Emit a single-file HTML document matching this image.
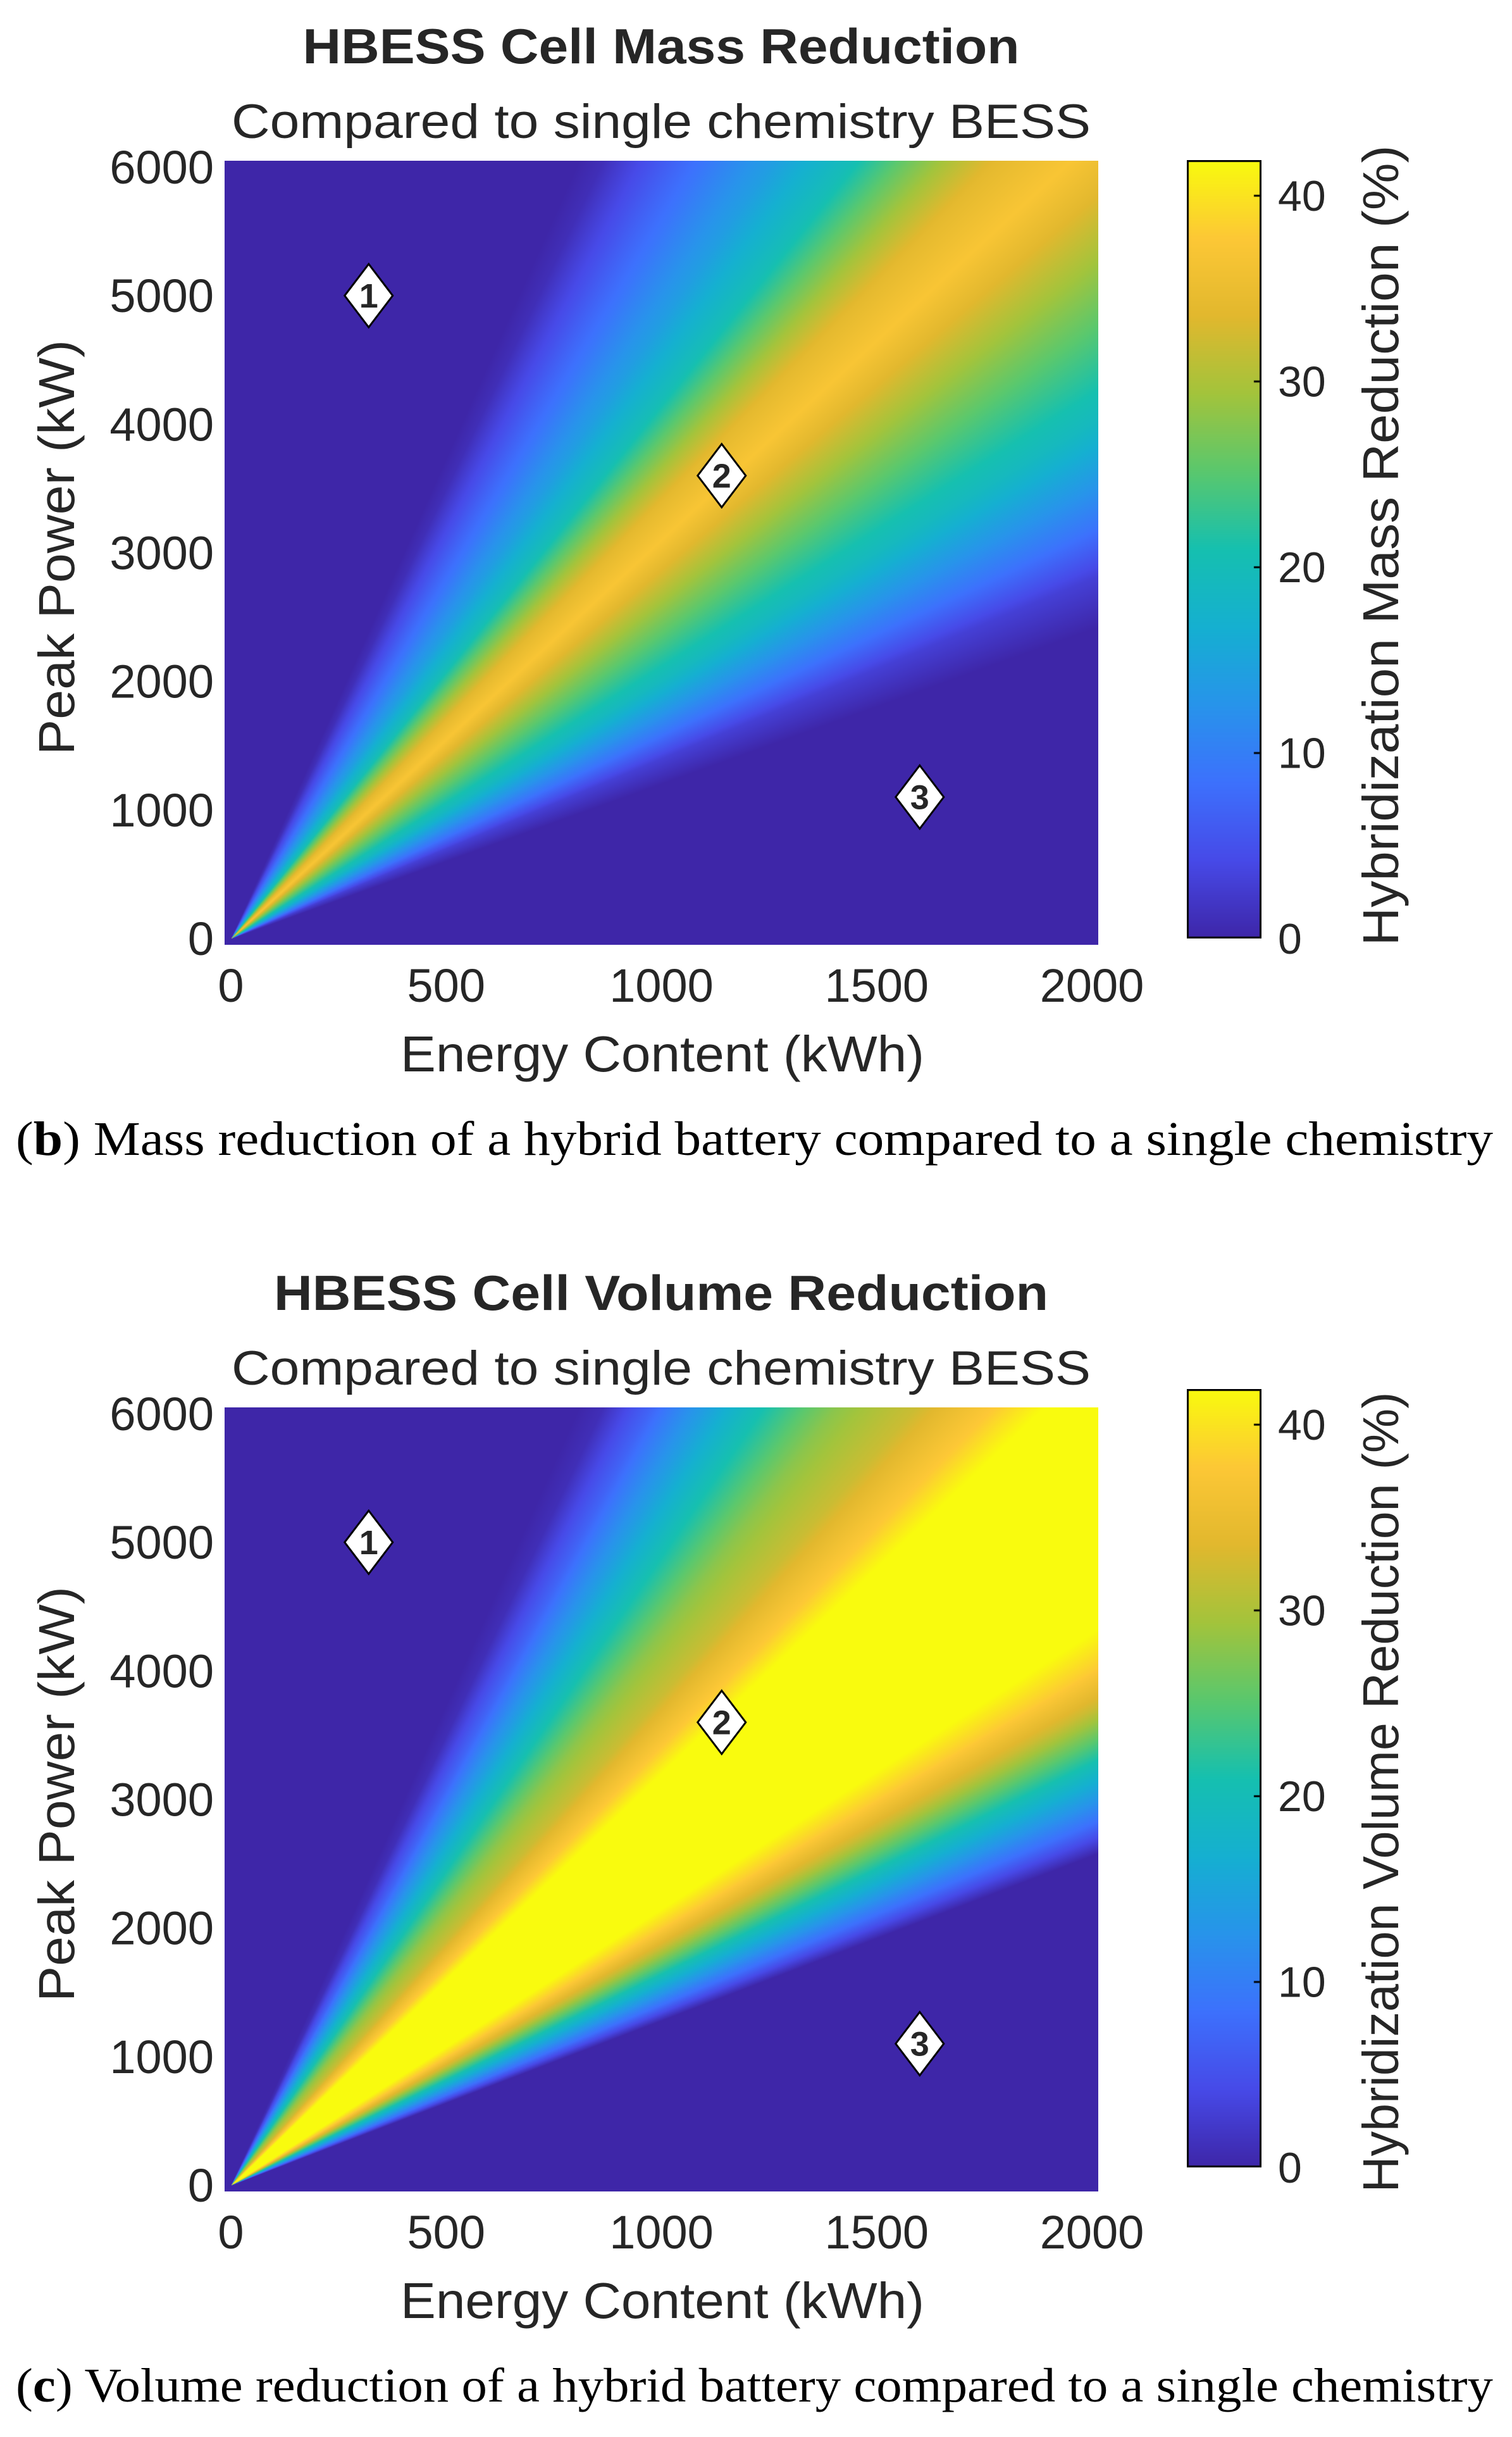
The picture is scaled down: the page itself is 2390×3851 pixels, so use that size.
<!DOCTYPE html>
<html><head><meta charset="utf-8"><style>
html,body{margin:0;padding:0;background:#fff;}
#root{position:relative;width:2390px;height:3851px;overflow:hidden;background:#fff;}
canvas{position:absolute;}
svg{position:absolute;left:0;top:0;}
text{font-family:"Liberation Sans",sans-serif;fill:#262626;}
.cap{font-family:"Liberation Serif",serif;fill:#000;}
</style></head><body>
<div id="root">
<canvas id="c1"></canvas>
<canvas id="c2"></canvas>
<canvas id="cb1"></canvas>
<canvas id="cb2"></canvas>
<svg id="ov" width="2390" height="3851"></svg>
</div>
<script>
// ---- data ----
const xTicks = [0, 500, 1000, 1500, 2000];
const yTicks = [0, 1000, 2000, 3000, 4000, 5000, 6000];
const cbTicks = [0, 10, 20, 30, 40];
const cMax = 41.9;
// reduction (%) as a function of C-rate (Peak Power / Energy)
const massCrate = [0, 1.2, 1.4, 1.6, 1.8, 2.0, 2.3, 2.6, 2.9, 3.1, 3.4, 3.8, 4.2, 4.8, 5.5, 6.2, 7.0, 7.5, 100];
const massValue = [0, 0, 3, 9, 14, 19, 24, 29, 34, 37, 34, 27, 20, 14, 9, 5, 1, 0, 0];
const volCrate = [0, 1.28, 1.4, 1.55, 1.7, 1.85, 2.0, 2.15, 3.2, 3.4, 3.8, 4.3, 4.8, 5.5, 6.2, 7.0, 7.5, 100];
const volValue = [0, 0, 8, 16, 24, 32, 38, 42, 42, 38, 32, 28, 22, 14, 7, 1, 0, 0];
const markers = [{id:'1', e:320, p:5000}, {id:'2', e:1140, p:3600}, {id:'3', e:1600, p:1100}];

const PAR = [[0,[62,38,168]],[0.1,[71,74,232]],[0.2,[61,113,253]],[0.3,[40,148,235]],[0.4,[21,176,209]],[0.5,[22,192,176]],[0.6,[90,200,110]],[0.7,[163,196,60]],[0.8,[226,184,46]],[0.9,[253,200,54]],[1.0,[249,251,14]]];
function cmap(t){t=Math.max(0,Math.min(1,t));for(let i=1;i<PAR.length;i++){if(t<=PAR[i][0]){const a=PAR[i-1],b=PAR[i];const f=(t-a[0])/(b[0]-a[0]);return a[1].map((v,k)=>v+(b[1][k]-v)*f);}}return PAR[PAR.length-1][1];}
function interp(xs,ys,x){if(x<=xs[0])return ys[0];for(let i=1;i<xs.length;i++){if(x<=xs[i]){const f=(x-xs[i-1])/(xs[i]-xs[i-1]);return ys[i-1]+(ys[i]-ys[i-1])*f;}}return ys[ys.length-1];}

const X0=365, X1=1726;
function charts(off){return {top:264+off, bot:1483+off};}
const NS='http://www.w3.org/2000/svg';
const ov=document.getElementById('ov');
function T(x,y,s,opts,name){const t=document.createElementNS(NS,'text');t.setAttribute('x',x);t.setAttribute('y',y);t.textContent=s;for(const k in opts)t.setAttribute(k,opts[k]);


ov.appendChild(t);return t;}

function drawChart(cid,cbid,off,cr,vals,title,titleW,cbLabel,cap,capLetter){
  const {top,bot}=charts(off);
  const W=X1-X0,H=bot-top;
  const xs=e=>X0+e/2000*W, ys=p=>bot-p/6000*H;
  const cv=document.getElementById(cid);cv.width=W+20;cv.height=H+20;cv.style.left=(X0-10)+'px';cv.style.top=(top-10)+'px';
  const ctx=cv.getContext('2d');const img=ctx.createImageData(cv.width,cv.height);
  for(let j=0;j<cv.height;j++){for(let i=0;i<cv.width;i++){
    const e=(i-10)/W*2000, p=(H-(j-10))/H*6000;
    const idx=(j*cv.width+i)*4;
    const c=e>1?p/e:100;
    const v=interp(cr,vals,c);
    const col=cmap(v/cMax);
    img.data[idx]=col[0];img.data[idx+1]=col[1];img.data[idx+2]=col[2];img.data[idx+3]=255;}}
  ctx.putImageData(img,0,0);
  // colorbar
  const cb=document.getElementById(cbid);const cbT=253+off+(off?-28:0),cbB=1483+off+(off?-28:0);
  cb.width=118;cb.height=cbB-cbT;cb.style.left='1876px';cb.style.top=cbT+'px';
  const g=cb.getContext('2d');
  for(let j=0;j<cb.height;j++){const col=cmap(1-j/cb.height);g.fillStyle=`rgb(${col[0]|0},${col[1]|0},${col[2]|0})`;g.fillRect(0,j,118,1);}
  g.strokeStyle='#000';g.lineWidth=4;g.strokeRect(1,1,116,cb.height-2);
  g.fillStyle='#000';
  for(const v of cbTicks){const y=cb.height-v/cMax*cb.height;g.fillRect(106,y-1,12,3);
    T(2020,cbT+y+24,String(v),{'font-size':68},'colorbar-tick-'+v);}
  // titles
  T(1045,off+100,title,{'font-size':78,'font-weight':'bold','text-anchor':'middle',fill:'#000',textLength:titleW,lengthAdjust:'spacingAndGlyphs'},'chart-title');
  T(1045,off+218,'Compared to single chemistry BESS',{'font-size':76,'text-anchor':'middle',fill:'#000',textLength:1358,lengthAdjust:'spacingAndGlyphs'},'chart-subtitle');
  for(const v of xTicks)T(xs(v),bot+100,String(v),{'font-size':74,'text-anchor':'middle'},'x-tick-'+v);
  for(const v of yTicks)T(338,ys(v)+26,String(v),{'font-size':74,'text-anchor':'end'},'y-tick-'+v);
  T(1047,bot+210,'Energy Content (kWh)',{'font-size':80,'text-anchor':'middle',textLength:828,lengthAdjust:'spacingAndGlyphs'},'x-axis-title');
  T(0,0,'Peak Power (kW)',{'font-size':80,'text-anchor':'middle',transform:`translate(117,${off+865}) rotate(-90)`,textLength:656,lengthAdjust:'spacingAndGlyphs'},'y-axis-title');
  T(0,0,cbLabel,{'font-size':80,'text-anchor':'middle',transform:`translate(2210,${off+862}) rotate(-90)`,textLength:1265,lengthAdjust:'spacingAndGlyphs'},'colorbar-title');
  // markers
  for(const m of markers){const cx=xs(m.e),cy=ys(m.p);
    const d=document.createElementNS(NS,'polygon');
    d.setAttribute('points',`${cx},${cy-50} ${cx+38},${cy} ${cx},${cy+50} ${cx-38},${cy}`);
    d.setAttribute('fill','#fff');d.setAttribute('stroke','#000');d.setAttribute('stroke-width','3');
    
    
    ov.appendChild(d);
    T(cx,cy+19,m.id,{'font-size':54,'font-weight':'bold','text-anchor':'middle',fill:'#000'},'region-label-'+m.id);}
  // caption
  const t=T(25,off+1825,'',{'font-size':76,class:'cap',textLength:2335,lengthAdjust:'spacingAndGlyphs'},'caption');
  t.innerHTML='(<tspan font-weight="bold">'+capLetter+'</tspan>)  '+cap;
}
drawChart('c1','cb1',0,massCrate,massValue,'HBESS Cell Mass Reduction',1133,'Hybridization Mass Reduction (%)','Mass reduction of a hybrid battery compared to a single chemistry','b');
drawChart('c2','cb2',1970,volCrate,volValue,'HBESS Cell Volume Reduction',1224,'Hybridization Volume Reduction (%)','Volume reduction of a hybrid battery compared to a single chemistry','c');
</script>
</body></html>
